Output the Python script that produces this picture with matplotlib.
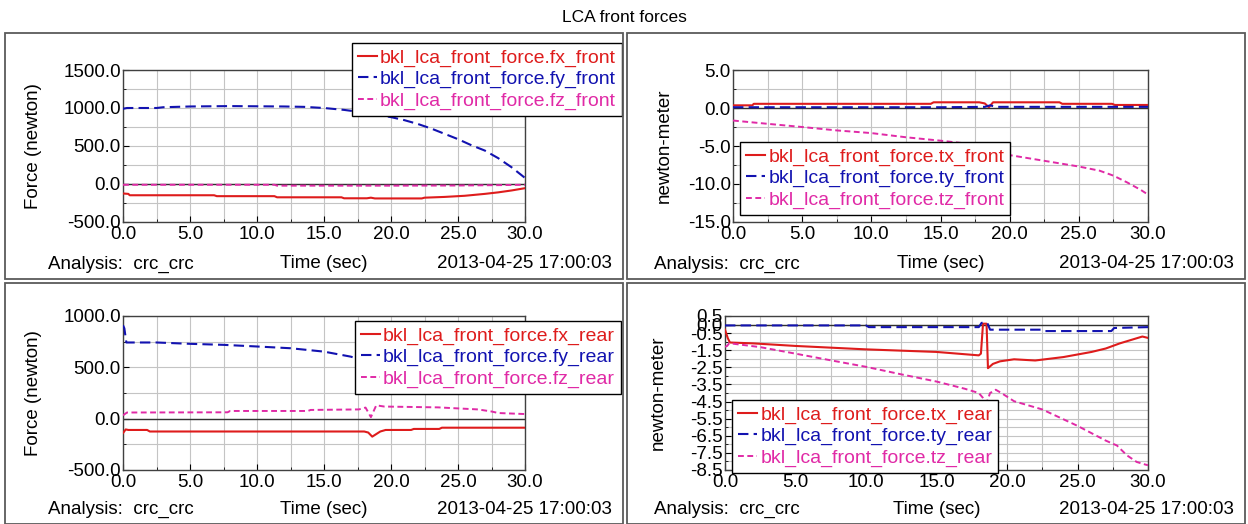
import matplotlib
matplotlib.use("Agg")
import matplotlib.pyplot as plt
from matplotlib.patches import Rectangle
from matplotlib.ticker import MultipleLocator, FixedLocator, FormatStrFormatter

plt.rcParams['font.family'] = ['Liberation Sans', 'DejaVu Sans']

# ---------------- data: front bushing forces (newton) ----------------
t_fx_front = [0, 0.4, 0.5, 6.8, 7.0, 11.3, 11.5, 16.3, 16.5, 18.2, 18.5, 18.8, 22.3, 22.5, 24, 25.5, 27, 28, 29, 30]
fx_front = [-125, -130, -148, -148, -160, -160, -175, -175, -188, -188, -180, -190, -190, -180, -170, -155, -130, -110, -85, -55]

t_fy_front = [0, 0.3, 2.5, 3, 5, 8, 12, 13.5, 15, 16.5, 18, 19, 20, 21, 22, 23, 24, 25, 26, 27, 28, 29, 30]
fy_front = [990, 1000, 1000, 1010, 1020, 1025, 1020, 1015, 1000, 975, 940, 910, 880, 840, 790, 730, 660, 590, 510, 440, 340, 220, 80]

t_fz_front = [0, 11.3, 11.5, 20, 25, 28, 30]
fz_front = [-10, -10, -22, -22, -20, -15, -10]

# ---------------- data: front bushing torques (newton-meter) ----------------
t_tx_front = [0, 1.4, 1.5, 14.3, 14.5, 17.8, 18.2, 18.5, 18.8, 23.6, 23.8, 27.4, 27.6, 30]
tx_front = [0.35, 0.35, 0.55, 0.55, 0.75, 0.75, 0.6, 0.1, 0.75, 0.75, 0.55, 0.55, 0.4, 0.4]

t_ty_front = [0, 15, 18.2, 18.6, 19.0, 30]
ty_front = [0.1, 0.1, 0.15, 0.35, 0.15, 0.15]

t_tz_front = [0, 2.5, 5, 7.5, 10, 12.5, 15, 17, 18, 18.4, 19, 20, 22.5, 25, 26.5, 27.5, 28.5, 29.5, 30]
tz_front = [-1.65, -2.08, -2.5, -2.95, -3.3, -3.85, -4.3, -4.7, -5.0, -4.6, -5.7, -6.2, -6.95, -7.7, -8.25, -8.9, -9.8, -10.8, -11.4]

# ---------------- data: rear bushing forces (newton) ----------------
t_fx_rear = [0, 0.2, 0.4, 1.8, 2.0, 18.0, 18.3, 18.6, 18.9, 19.2, 19.6, 21.5, 21.7, 23.6, 23.8, 30]
fx_rear = [-140, -105, -110, -110, -125, -125, -135, -175, -150, -125, -110, -110, -100, -100, -88, -88]

t_fy_rear = [0, 0.1, 0.25, 2.5, 5, 7.5, 10, 12.5, 15, 17, 18, 20, 22, 25, 28, 30]
fy_rear = [910, 880, 742, 742, 729, 719, 703, 686, 653, 604, 564, 500, 460, 400, 330, 290]

t_fz_rear = [0, 0.3, 7.8, 8.0, 13.8, 14.0, 17.6, 18.1, 18.5, 18.9, 19.5, 23.5, 25, 26.5, 27.5, 28, 30]
fz_rear = [33, 60, 62, 75, 75, 85, 90, 108, 15, 130, 118, 110, 100, 90, 70, 55, 45]

# ---------------- data: rear bushing torques (newton-meter) ----------------
t_tx_rear = [0, 0.2, 0.35, 2, 5, 10, 15, 18.0, 18.15, 18.3, 18.55, 18.65, 19.0, 19.5, 20.5, 22, 24, 26, 27, 28, 29, 29.6, 30]
tx_rear = [-0.3, -0.8, -1.05, -1.1, -1.25, -1.45, -1.6, -1.8, -1.7, 0.05, 0.05, -2.55, -2.3, -2.15, -2.03, -2.1, -1.9, -1.6, -1.4, -1.1, -0.85, -0.7, -0.78]

t_ty_rear = [0, 10, 10.2, 18.0, 18.2, 18.6, 18.8, 22.5, 22.7, 27.4, 27.6, 30]
ty_rear = [-0.05, -0.05, -0.15, -0.15, 0.1, 0.1, -0.3, -0.3, -0.38, -0.38, -0.2, -0.15]

t_tz_rear = [0, 0.15, 0.3, 2.5, 5, 7.5, 10, 12.5, 15, 17, 18, 18.3, 18.55, 18.8, 19.2, 19.6, 20.5, 22.5, 25, 27, 27.8, 28.5, 29.2, 29.8, 30]
tz_rear = [-1.3, -1.25, -1.09, -1.32, -1.7, -2.09, -2.47, -2.91, -3.33, -3.75, -4.0, -4.29, -4.58, -4.0, -3.81, -4.0, -4.48, -4.96, -5.92, -6.78, -7.07, -7.64, -8.03, -8.18, -8.22]

x_ticks = [0, 5, 10, 15, 20, 25, 30]
y_ticks_force_front = [-500, 0, 500, 1000, 1500]
y_ticks_torque_front = [-15, -10, -5, 0, 5]
y_ticks_force_rear = [-500, 0, 500, 1000]
y_ticks_torque_rear = [0.5, 0.0, -0.5, -1.5, -2.5, -3.5, -4.5, -5.5, -6.5, -7.5, -8.5]

title = "LCA front forces"
analysis_text = "Analysis:  crc_crc"
time_label = "Time (sec)"
stamp_text = "2013-04-25 17:00:03"

RED = '#de1c1c'
BLUE = '#1212b0'
MAGENTA = '#e02aa6'
GRID = '#c4c4c4'
FRAME = '#5a5a5a'

W, H = 1248, 524
fig = plt.figure(figsize=(W / 100, H / 100), dpi=100)


def fx(x):
    return x / W


def fy(y):
    return 1 - y / H


def px_rect(l, t, r, b):
    return [l / W, 1 - b / H, (r - l) / W, (b - t) / H]


fig.text(fx(624), fy(18), title, ha='center', va='center', fontsize=12.5)

panels = [
    dict(box=(5, 33, 623, 279), axes=(123, 70, 525, 222), ylim=(-500, 1500),
         yticks=y_ticks_force_front, yminor=250, fmt='%.1f', ylabel='Force (newton)', ylab_x=34,
         series=[(t_fx_front, fx_front, 'bkl_lca_front_force.fx_front', RED, '-'),
                 (t_fy_front, fy_front, 'bkl_lca_front_force.fy_front', BLUE, '--'),
                 (t_fz_front, fz_front, 'bkl_lca_front_force.fz_front', MAGENTA, ':')],
         leg_loc='upper right', leg_anchor=(622, 43)),
    dict(box=(627, 33, 1245, 279), axes=(733, 70, 1148, 222), ylim=(-15, 5),
         yticks=y_ticks_torque_front, yminor=2.5, fmt='%.1f', ylabel='newton-meter', ylab_x=664,
         series=[(t_tx_front, tx_front, 'bkl_lca_front_force.tx_front', RED, '-'),
                 (t_ty_front, ty_front, 'bkl_lca_front_force.ty_front', BLUE, '--'),
                 (t_tz_front, tz_front, 'bkl_lca_front_force.tz_front', MAGENTA, ':')],
         leg_loc='upper left', leg_anchor=(740, 142)),
    dict(box=(5, 283, 623, 524), axes=(123, 316, 525, 470), ylim=(-500, 1000),
         yticks=y_ticks_force_rear, yminor=250, fmt='%.1f', ylabel='Force (newton)', ylab_x=34,
         series=[(t_fx_rear, fx_rear, 'bkl_lca_front_force.fx_rear', RED, '-'),
                 (t_fy_rear, fy_rear, 'bkl_lca_front_force.fy_rear', BLUE, '--'),
                 (t_fz_rear, fz_rear, 'bkl_lca_front_force.fz_rear', MAGENTA, ':')],
         leg_loc='upper right', leg_anchor=(621, 321)),
    dict(box=(627, 283, 1245, 524), axes=(725, 316, 1148, 470), ylim=(-8.5, 0.5),
         yticks=y_ticks_torque_rear, yminor=0.5, fmt='%.1f', ylabel='newton-meter', ylab_x=658,
         series=[(t_tx_rear, tx_rear, 'bkl_lca_front_force.tx_rear', RED, '-'),
                 (t_ty_rear, ty_rear, 'bkl_lca_front_force.ty_rear', BLUE, '--'),
                 (t_tz_rear, tz_rear, 'bkl_lca_front_force.tz_rear', MAGENTA, ':')],
         leg_loc='upper left', leg_anchor=(732, 400)),
]

for p in panels:
    bl, bt, br, bb = p['box']
    fig.patches.append(Rectangle((fx(bl), fy(bb)), (br - bl) / W, (bb - bt) / H,
                                 transform=fig.transFigure, fill=False,
                                 edgecolor=FRAME, linewidth=1.3, zorder=0))

    ax = fig.add_axes(px_rect(*p['axes']))
    for t, v, lab, col, style in p['series']:
        if style == '-':
            ax.plot(t, v, color=col, lw=1.5, label=lab, zorder=3)
        elif style == '--':
            ax.plot(t, v, color=col, lw=1.5, dashes=(5, 2.5), label=lab, zorder=3)
        else:
            ax.plot(t, v, color=col, lw=1.4, dashes=(3, 1.8), label=lab, zorder=3)

    ax.set_xlim(0, 30)
    ax.set_ylim(*p['ylim'])
    ax.xaxis.set_major_locator(FixedLocator(x_ticks))
    ax.xaxis.set_minor_locator(MultipleLocator(2.5))
    ax.yaxis.set_major_locator(FixedLocator(p['yticks']))
    ax.yaxis.set_minor_locator(MultipleLocator(p['yminor']))
    ax.xaxis.set_major_formatter(FormatStrFormatter('%.1f'))
    ax.yaxis.set_major_formatter(FormatStrFormatter(p['fmt']))
    ax.tick_params(which='major', direction='in', length=4, width=0.8, labelsize=13.5, pad=1.5)
    ax.tick_params(axis='x', which='major', pad=3)
    ax.tick_params(which='minor', direction='in', length=2, width=0.6)
    ax.grid(True, which='both', color=GRID, lw=0.8, zorder=0)
    ax.set_axisbelow(True)
    ax.axhline(0, color='#303030', lw=1.0, zorder=2)
    for s in ax.spines.values():
        s.set_color('#404040')
        s.set_linewidth(1.0)

    al, at, ar, ab = p['axes']
    fig.text(fx(p['ylab_x']), fy((at + ab) / 2), p['ylabel'], rotation=90,
             ha='center', va='center', fontsize=13.5)

    row_y = bb - 15
    fig.text(fx(bl + 43 if bl < 600 else bl + 27), fy(row_y), analysis_text,
             ha='left', va='center', fontsize=13.5)
    fig.text(fx((al + ar) / 2), fy(row_y), time_label, ha='center', va='center', fontsize=13.5)
    fig.text(fx(br - 11), fy(row_y), stamp_text, ha='right', va='center', fontsize=13.5)

    ax_ = p['leg_anchor']
    leg = ax.legend(loc=p['leg_loc'], bbox_to_anchor=(fx(ax_[0]), fy(ax_[1])),
                    bbox_transform=fig.transFigure, fontsize=14, labelcolor='linecolor',
                    frameon=True, fancybox=False, framealpha=1, edgecolor='black',
                    handlelength=1.0, handletextpad=0.15, labelspacing=0.2,
                    borderpad=0.3, borderaxespad=0)
    leg.get_frame().set_linewidth(1.0)
    leg.set_zorder(5)

fig.savefig('out.png', dpi=100)
